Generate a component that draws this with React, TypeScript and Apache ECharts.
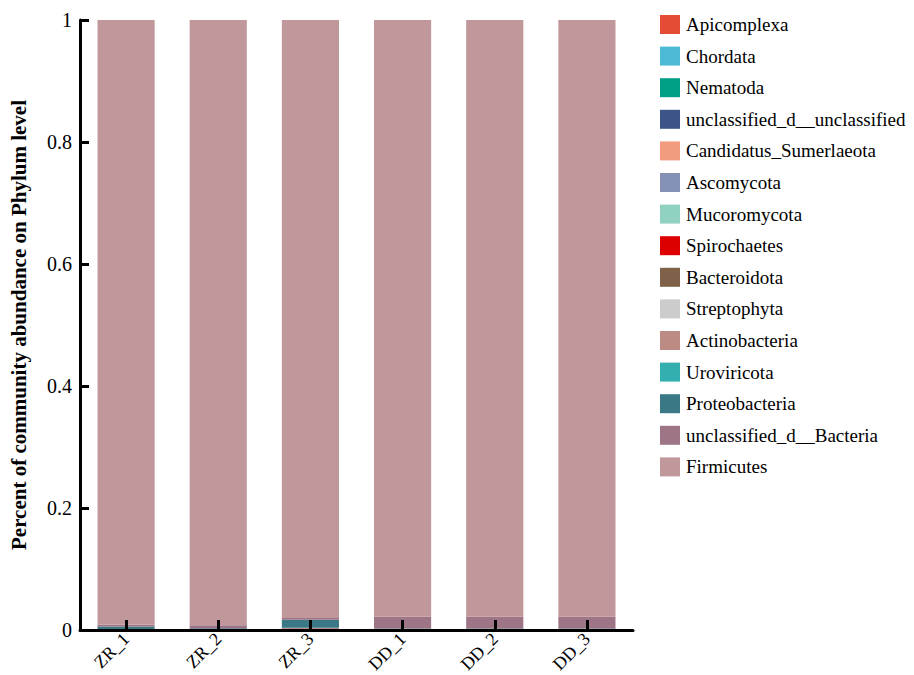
import React, { useEffect, useRef } from "react";
import * as echarts from "echarts";

const categories = ["ZR_1", "ZR_2", "ZR_3", "DD_1", "DD_2", "DD_3"];
const phyla = [
  "Apicomplexa",
  "Chordata",
  "Nematoda",
  "unclassified_d__unclassified",
  "Candidatus_Sumerlaeota",
  "Ascomycota",
  "Mucoromycota",
  "Spirochaetes",
  "Bacteroidota",
  "Streptophyta",
  "Actinobacteria",
  "Uroviricota",
  "Proteobacteria",
  "unclassified_d__Bacteria",
  "Firmicutes",
];
const colors = [
  "#E64B35", "#4DBBD5", "#00A087", "#3C5488", "#F39B7F", "#8491B4", "#91D1C2",
  "#DC0000", "#7E6148", "#CCCCCC", "#BC8B83", "#34AFB0", "#3A7886", "#9E7587", "#C0979A",
];
// values per phylum for each sample
const apicomplexa = [0.0001, 0.0001, 0.0001, 0.0001, 0.0001, 0.0001];
const chordata = [0.0001, 0.0001, 0.0001, 0.0001, 0.0001, 0.0001];
const nematoda = [0.0001, 0.0001, 0.0001, 0.0001, 0.0001, 0.0001];
const unclassifiedUnclassified = [0.0001, 0.0001, 0.0001, 0.0001, 0.0001, 0.0001];
const candidatusSumerlaeota = [0.0001, 0.0001, 0.0001, 0.0001, 0.0001, 0.0001];
const ascomycota = [0.0001, 0.0001, 0.0001, 0.0001, 0.0001, 0.0001];
const mucoromycota = [0.0001, 0.0001, 0.0001, 0.0001, 0.0001, 0.0001];
const spirochaetes = [0.0001, 0.0001, 0.0001, 0.0001, 0.0001, 0.0001];
const bacteroidota = [0.0002, 0.0002, 0.0002, 0.0002, 0.0002, 0.0002];
const streptophyta = [0.0001, 0.0001, 0.0001, 0.0001, 0.0001, 0.0001];
const actinobacteria = [0.0005, 0.0005, 0.002, 0.0003, 0.0003, 0.0003];
const uroviricota = [0.0002, 0.0002, 0.0005, 0.0002, 0.0002, 0.0002];
const proteobacteria = [0.004, 0.001, 0.013, 0.001, 0.001, 0.001];
const unclassifiedBacteria = [0.003, 0.005, 0.003, 0.019, 0.019, 0.019];

const smallSeries = [
  apicomplexa, chordata, nematoda, unclassifiedUnclassified, candidatusSumerlaeota,
  ascomycota, mucoromycota, spirochaetes, bacteroidota, streptophyta, actinobacteria,
  uroviricota, proteobacteria, unclassifiedBacteria,
];
const firmicutes = categories.map((_, i) =>
  +(1 - smallSeries.reduce((s, arr) => s + arr[i], 0)).toFixed(5)
);
const allSeries = [...smallSeries, firmicutes];

const FONT = "'Liberation Serif', 'Times New Roman', serif";

export default function App() {
  const ref = useRef<HTMLDivElement>(null);
  useEffect(() => {
    if (!ref.current) return;
    const chart = echarts.init(ref.current, null, { renderer: "svg" });
    chart.setOption({
      animation: false,
      textStyle: { fontFamily: FONT },
      color: colors,
      legend: {
        orient: "vertical",
        left: 660,
        top: 15,
        padding: 0,
        itemWidth: 20,
        itemHeight: 19,
        itemGap: 12.6,
        icon: "rect",
        textStyle: { fontFamily: FONT, fontSize: 19, color: "#000", padding: [0, 0, 0, 1] },
        data: phyla,
      },
      grid: { left: 80, right: 281, top: 20, bottom: 45, containLabel: false, outerBoundsMode: "none" },
      xAxis: {
        type: "category",
        data: categories,
        z: 50,
        axisLine: { show: true, lineStyle: { color: "#000", width: 3 } },
        axisTick: { show: true, inside: true, alignWithLabel: true, length: 10, lineStyle: { color: "#000", width: 3 } },
        axisLabel: { rotate: 45, fontSize: 18, color: "#000", fontFamily: FONT, margin: 6 },
      },
      yAxis: {
        type: "value",
        min: 0,
        max: 1,
        interval: 0.2,
        z: 50,
        name: "Percent of community abundance on Phylum level",
        nameLocation: "middle",
        nameGap: 51,
        nameTextStyle: { fontSize: 21, fontWeight: "bold", color: "#000", fontFamily: FONT },
        axisLine: { show: true, lineStyle: { color: "#000", width: 3 } },
        axisTick: { show: true, inside: true, length: 9, lineStyle: { color: "#000", width: 3 } },
        axisLabel: { fontSize: 20, color: "#000", fontFamily: FONT, margin: 8 },
        splitLine: { show: false },
      },
      series: phyla.map((name, k) => ({
        name,
        type: "bar",
        stack: "total",
        z: 1,
        barWidth: "62%",
        data: allSeries[k],
        itemStyle: { color: colors[k] },
      })),
    });
    return () => chart.dispose();
  }, []);
  return <div ref={ref} style={{ width: 914, height: 675, position: "absolute", left: 0, top: 0 }} />;
}
